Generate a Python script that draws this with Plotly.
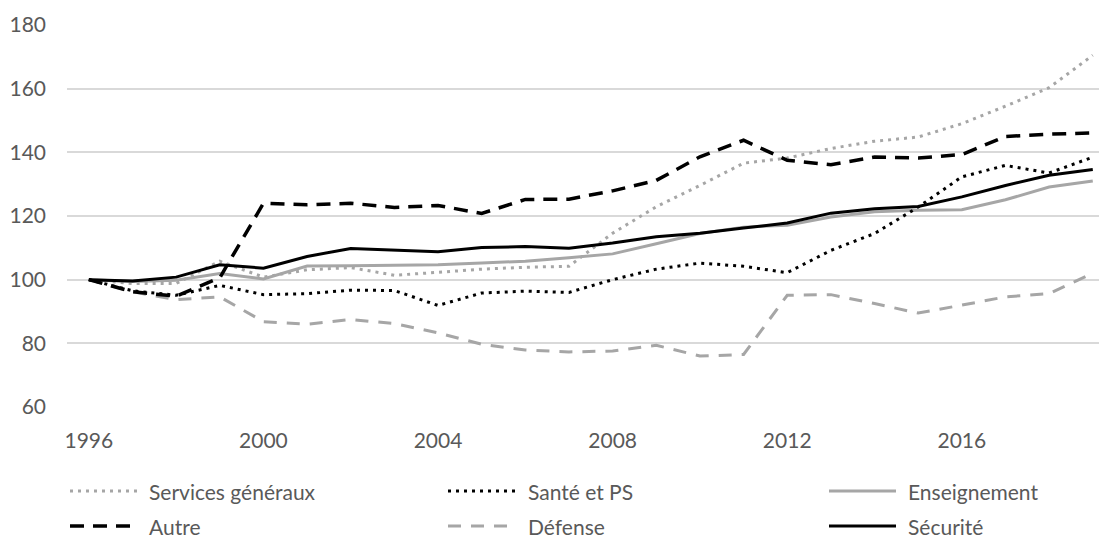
import plotly.graph_objects as go

years = list(range(1996, 2020))

services_generaux = [100, 98.8, 98.8, 105.8, 100.8, 103.1, 103.8, 101.4, 102.3, 103.3, 103.9, 104.2,
                     114.6, 122.9, 129.6, 136.6, 138.2, 141.2, 143.5, 144.8, 149.0, 154.5, 160.3, 170.5]
sante_ps = [100, 96.5, 95.1, 98.2, 95.3, 95.6, 96.7, 96.6, 91.9, 95.8, 96.4, 96.0,
            100.0, 103.3, 105.2, 104.2, 102.2, 109.2, 114.5, 122.8, 132.3, 135.9, 133.5, 138.5]
enseignement = [100, 99.4, 99.8, 101.9, 100.2, 104.3, 104.4, 104.5, 104.7, 105.2, 105.8, 106.9,
                108.1, 111.3, 114.5, 116.5, 117.1, 119.7, 121.3, 121.8, 122.0, 125.1, 129.1, 131.0]
autre = [100, 96.2, 94.8, 100.6, 124.0, 123.5, 124.0, 122.7, 123.3, 120.8, 125.2, 125.3,
         127.9, 131.2, 138.6, 143.8, 137.5, 136.1, 138.5, 138.2, 139.3, 145.0, 145.7, 146.1]
defense = [100, 96.2, 93.7, 94.6, 86.8, 86.0, 87.5, 86.2, 83.3, 79.7, 77.9, 77.3,
           77.6, 79.4, 76.0, 76.5, 95.1, 95.3, 92.5, 89.5, 92.0, 94.6, 95.6, 102.0]
securite = [100, 99.6, 100.8, 104.7, 103.6, 107.3, 109.8, 109.2, 108.8, 110.1, 110.4, 109.9,
            111.5, 113.5, 114.6, 116.2, 117.8, 120.9, 122.3, 123.0, 126.0, 129.6, 132.8, 134.6]

x_ticks = [1996, 2000, 2004, 2008, 2012, 2016]
y_ticks = [60, 80, 100, 120, 140, 160, 180]

GRAY = "#a6a6a6"
BLACK = "#000000"
TXT = "#595959"
FONT = "Lato"
FS = 21

series = [
    ("Services généraux", services_generaux, GRAY, "3px,5px", 3),
    ("Santé et PS", sante_ps, BLACK, "3px,5px", 3),
    ("Enseignement", enseignement, GRAY, "solid", 3),
    ("Autre", autre, BLACK, "14px,9px", 3.5),
    ("Défense", defense, GRAY, "13px,10px", 3),
    ("Sécurité", securite, BLACK, "solid", 3),
]

fig = go.Figure()
order = [4, 0, 2, 1, 3, 5]
for i in order:
    name, vals, col, dash, w = series[i]
    fig.add_trace(go.Scatter(x=years, y=vals, mode="lines", name=name,
                             line=dict(color=col, width=w, dash=dash),
                             showlegend=False))

W, H = 1099, 542
L, R, T, B = 67, 1099, 25, 407


def px2x(px):
    return (px - L) / (R - L)


def py2y(py):
    return (B - py) / (B - T)


col_sym = [(70, 138, 147), (448, 515, 526), (829, 896, 906)]
row_y = [491, 526]
shapes = []
annotations = []
for k, (name, vals, col, dash, w) in enumerate(series):
    r, c = divmod(k, 3)
    x0, x1, xt = col_sym[c]
    yy = row_y[r]
    shapes.append(dict(type="line", xref="paper", yref="paper",
                       x0=px2x(x0), x1=px2x(x1), y0=py2y(yy), y1=py2y(yy),
                       line=dict(color=col, width=w, dash=dash)))
    annotations.append(dict(text=name, xref="paper", yref="paper",
                            x=px2x(xt), y=py2y(yy), xanchor="left", yanchor="middle",
                            showarrow=False, font=dict(family=FONT, size=FS, color=TXT)))

fig.update_layout(
    width=W, height=H,
    margin=dict(l=L, r=W - R, t=T, b=H - B, pad=0),
    paper_bgcolor="white", plot_bgcolor="white",
    shapes=shapes, annotations=annotations,
    showlegend=False,
    font=dict(family=FONT, size=FS, color=TXT),
)
fig.update_xaxes(range=[1995.5, 1995.5 + (R - L) / 43.65], tickvals=x_ticks,
                 ticktext=[str(v) for v in x_ticks], showgrid=False, zeroline=False,
                 showline=False, ticks="", ticklabelstandoff=19, automargin=False,
                 tickfont=dict(family=FONT, size=FS, color=TXT))
fig.update_yaxes(range=[60, 180], tickvals=y_ticks, showgrid=True, gridcolor="#d9d9d9",
                 gridwidth=1.5, zeroline=False, showline=False, ticks="", automargin=False,
                 ticklabelstandoff=20, tickfont=dict(family=FONT, size=FS, color=TXT))

fig.write_html("out.html", config={"displayModeBar": False},
               post_script="document.body.style.margin='0px';document.body.style.overflow='hidden';")
